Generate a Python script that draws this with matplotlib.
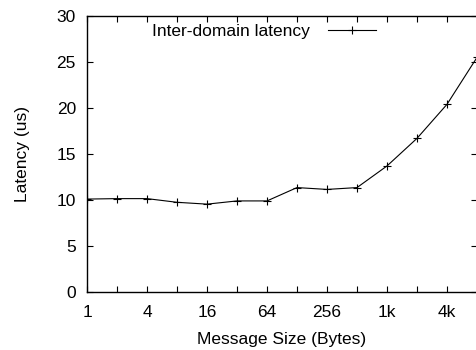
import matplotlib
matplotlib.use('Agg')
import matplotlib.pyplot as plt
from matplotlib.ticker import FixedLocator, NullLocator

plt.rcParams['font.family'] = ['Liberation Sans', 'DejaVu Sans']

sizes = [1, 2, 4, 8, 16, 32, 64, 128, 256, 512, 1024, 2048, 4096, 8192]
latency = [10.1, 10.15, 10.15, 9.75, 9.55, 9.9, 9.9, 11.35, 11.15, 11.35,
           13.7, 16.7, 20.4, 25.5]
tick_pos = [1, 4, 16, 64, 256, 1024, 4096]
tick_labels = ['1', '4', '16', '64', '256', '1k', '4k']

fs = 12.5

fig = plt.figure(figsize=(4.77, 3.5), dpi=100)
ax = fig.add_axes([0.1824, 0.1657, 0.8176, 0.7886])

ax.plot(sizes, latency, color='black', linewidth=0.8, marker='+',
        markersize=6, markeredgewidth=0.8, label='Inter-domain latency')

ax.set_xscale('log', base=2)
ax.set_xlim(1, 8192)
ax.set_ylim(0, 30)
ax.xaxis.set_major_locator(FixedLocator(sizes))
ax.xaxis.set_minor_locator(NullLocator())
ax.set_xticks(sizes)
ax.set_xticklabels([tick_labels[tick_pos.index(s)] if s in tick_pos else '' for s in sizes])
ax.set_yticks([0, 5, 10, 15, 20, 25, 30])

ax.tick_params(direction='in', length=4, width=0.8, labelsize=fs,
               top=True, right=True)
ax.tick_params(axis='x', pad=9)
ax.tick_params(axis='y', pad=8)
for s in ax.spines.values():
    s.set_linewidth(1.0)

ax.set_xlabel('Message Size (Bytes)', fontsize=fs, labelpad=9)
ax.set_ylabel('Latency (us)', fontsize=fs, labelpad=19)

ax.legend(loc='upper left', bbox_to_anchor=(0.15, 0.995), frameon=False,
          markerfirst=False, handlelength=2.8, fontsize=fs,
          borderaxespad=0, handletextpad=1.0)

fig.savefig('out.png', dpi=100)
